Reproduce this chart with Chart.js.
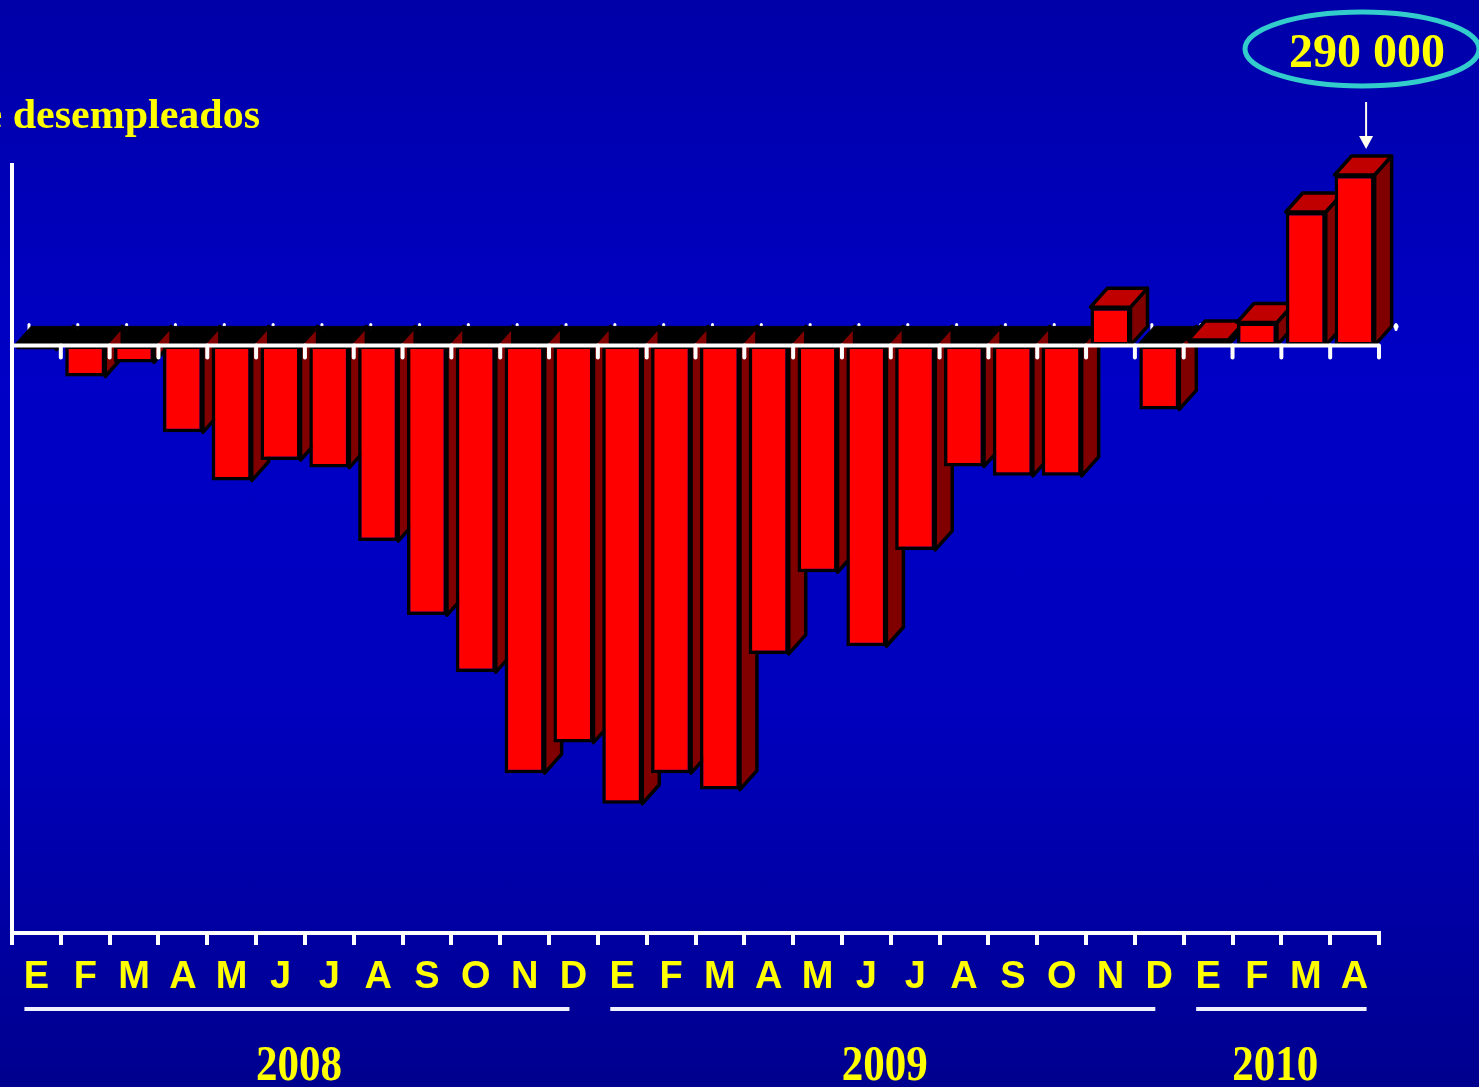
<!DOCTYPE html>
<html>
<head>
<meta charset="utf-8">
<title>desempleados</title>
<script src="https://cdn.jsdelivr.net/npm/chart.js@4.4.0/dist/chart.umd.min.js"></script>
<style>
  html, body { margin: 0; padding: 0; }
  body {
    width: 1479px; height: 1087px; overflow: hidden;
    background: linear-gradient(to bottom, #0000a8 0%, #0000c6 35%, #0000be 65%, #00008e 100%);
  }
  #wrap { position: relative; width: 1479px; height: 1087px; }
</style>
</head>
<body>
<div id="wrap"><canvas id="unempChart"></canvas></div>
<script>
/* Data */
const month_labels = ['E', 'F', 'M', 'A', 'M', 'J', 'J', 'A', 'S', 'O', 'N', 'D',
                      'E', 'F', 'M', 'A', 'M', 'J', 'J', 'A', 'S', 'O', 'N', 'D',
                      'E', 'F', 'M', 'A'];
const change_values = [-7000, -53000, -29000, -148000, -230000, -195000, -208000, -333000,
                       -459000, -556000, -728000, -676000,
                       -780000, -728000, -756000, -525000, -386000, -512000, -348000, -206000,
                       -222000, -222000, 65000, -109000,
                       9000, 39000, 227000, 290000];
const year_labels = ['2008', '2009', '2010'];
const year_first = [0, 12, 24];
const year_last = [11, 23, 27];
const title_text = 'Miles de desempleados';
const callout_text = '290 000';

/* Look */
const depth_x = 17;
const depth_y = -19;
const yellow = '#ffff00';
const white = '#ffffff';

const chart_element = document.getElementById('unempChart');

const poly = (ctx, pts, fill) => {
  ctx.beginPath();
  ctx.moveTo(pts[0][0], pts[0][1]);
  for (let i = 1; i < pts.length; i++) {
    ctx.lineTo(pts[i][0], pts[i][1]);
  }
  ctx.closePath();
  ctx.fillStyle = fill;
  ctx.fill();
  ctx.stroke();
};

// boundaries between months, from the category scale
const boundaries = (x) => {
  const half = (x.getPixelForValue(1) - x.getPixelForValue(0)) / 2;
  const out = [];
  for (let i = 0; i < month_labels.length; i++) {
    out.push(x.getPixelForValue(i) - half);
  }
  out.push(x.getPixelForValue(month_labels.length - 1) + half);
  return out;
};

const bars3d = {
  id: 'bars3d',
  beforeDatasetsDraw(chart) {
    const ctx = chart.ctx;
    const x = chart.scales.x;
    const y = chart.scales.y;
    const y0 = y.getPixelForValue(0);
    const meta = chart.getDatasetMeta(0);
    const bnd = boundaries(x);

    ctx.save();
    // small ticks on the back edge of the zero plane
    ctx.strokeStyle = white;
    ctx.lineWidth = 3;
    ctx.lineCap = 'round';
    bnd.forEach((bx) => {
      ctx.beginPath();
      ctx.moveTo(bx + depth_x, y0 + depth_y - 2);
      ctx.lineTo(bx + depth_x, y0 + depth_y + 3);
      ctx.stroke();
    });

    // black floor under the negative months
    ctx.strokeStyle = '#000';
    ctx.lineWidth = 1;
    change_values.forEach((v, i) => {
      if (v >= 0) return;
      const cl = bnd[i] + 2;
      const cr = bnd[i + 1] + 2;
      poly(ctx, [[cl, y0], [cl + depth_x, y0 + depth_y], [cr + depth_x, y0 + depth_y], [cr, y0]], '#000');
    });

    // side and top faces
    ctx.lineWidth = 3.5;
    ctx.lineJoin = 'round';
    meta.data.forEach((bar, i) => {
      const left = bar.x - bar.width / 2;
      const right = bar.x + bar.width / 2;
      const top = Math.min(bar.y, bar.base);
      const bottom = Math.max(bar.y, bar.base);
      poly(ctx, [[right, top], [right + depth_x, top + depth_y],
                 [right + depth_x, bottom + depth_y], [right, bottom]], '#800000');
      if (change_values[i] > 0) {
        poly(ctx, [[left, top], [left + depth_x, top + depth_y],
                   [right + depth_x, top + depth_y], [right, top]], '#c00000');
      }
    });
    ctx.restore();
  },
  afterDatasetsDraw(chart) {
    const ctx = chart.ctx;
    const x = chart.scales.x;
    const y = chart.scales.y;
    const y0 = y.getPixelForValue(0);
    const bnd = boundaries(x);

    ctx.save();
    ctx.strokeStyle = white;
    ctx.lineWidth = 4;
    ctx.beginPath();
    ctx.moveTo(x.left, y0);
    ctx.lineTo(x.right, y0);
    ctx.stroke();
    ctx.lineCap = 'round';
    bnd.slice(1).forEach((bx) => {
      ctx.beginPath();
      ctx.moveTo(bx, y0);
      ctx.lineTo(bx, y0 + 12);
      ctx.stroke();
    });
    ctx.fillStyle = white;
    ctx.beginPath();
    ctx.arc(x.right + depth_x, y0 + depth_y, 2.5, 0, Math.PI * 2);
    ctx.fill();
    ctx.restore();
  },
  afterDraw(chart) {
    const ctx = chart.ctx;
    const x = chart.scales.x;
    const meta = chart.getDatasetMeta(0);
    ctx.save();

    // title, partly off the left edge
    ctx.fillStyle = yellow;
    ctx.font = 'bold 42px "Liberation Serif", "Times New Roman", serif';
    ctx.textAlign = 'right';
    ctx.textBaseline = 'alphabetic';
    ctx.fillText(title_text, 260, 128);

    // callout for the last month
    const last = meta.data[meta.data.length - 1];
    const ax = last.x + depth_x / 2 + 3;
    ctx.strokeStyle = '#33cccc';
    ctx.lineWidth = 5;
    ctx.beginPath();
    ctx.ellipse(1362, 49, 117, 37, 0, 0, Math.PI * 2);
    ctx.stroke();
    ctx.fillStyle = yellow;
    ctx.font = 'bold 48px "Liberation Serif", "Times New Roman", serif';
    ctx.textAlign = 'center';
    ctx.fillText(callout_text, 1367, 67);

    const tip = last.y + depth_y - 7;
    ctx.strokeStyle = '#ffffee';
    ctx.fillStyle = '#ffffee';
    ctx.lineWidth = 2;
    ctx.beginPath();
    ctx.moveTo(ax, 102);
    ctx.lineTo(ax, tip - 10);
    ctx.stroke();
    ctx.beginPath();
    ctx.moveTo(ax - 7, tip - 13);
    ctx.lineTo(ax + 7, tip - 13);
    ctx.lineTo(ax, tip);
    ctx.closePath();
    ctx.fill();

    // year groups
    year_labels.forEach((yr, k) => {
      const c1 = x.getPixelForValue(year_first[k]);
      const c2 = x.getPixelForValue(year_last[k]);
      ctx.strokeStyle = '#f0f0ff';
      ctx.lineWidth = 4;
      ctx.beginPath();
      ctx.moveTo(c1 - 12, 1009);
      ctx.lineTo(c2 + (k === 2 ? 12 : -4), 1009);
      ctx.stroke();
      ctx.save();
      ctx.translate((c1 + c2) / 2 - 6, 1080);
      ctx.scale(0.86, 1);
      ctx.fillStyle = yellow;
      ctx.font = 'bold 50px "Liberation Serif", "Times New Roman", serif';
      ctx.textAlign = 'center';
      ctx.fillText(yr, 0, 0);
      ctx.restore();
    });
    ctx.restore();
  }
};

/* Chart */
const unemp_chart = new Chart(chart_element.getContext('2d'), {
  type: 'bar',
  data: {
    labels: month_labels,
    datasets: [{
      data: change_values,
      backgroundColor: '#ff0000',
      borderColor: '#000000',
      borderWidth: 3.5,
      borderSkipped: false,
      barPercentage: 0.82,
      categoryPercentage: 1
    }]
  },
  options: {
    responsive: true,
    maintainAspectRatio: false,
    animation: false,
    layout: { padding: { top: 165, right: 100, left: 0, bottom: 0 } },
    plugins: {
      legend: { display: false },
      tooltip: { enabled: false }
    },
    scales: {
      x: {
        offset: true,
        grid: {
          offset: true,
          drawOnChartArea: false,
          drawTicks: true,
          tickLength: 12,
          color: white,
          lineWidth: 4
        },
        border: { display: true, color: white, width: 4 },
        ticks: {
          color: yellow,
          font: { family: '"Liberation Sans Narrow", "Arial Narrow", "Liberation Sans", Arial', weight: 'bold', size: 38 },
          padding: 10,
          autoSkip: false,
          maxRotation: 0
        },
        afterFit: (s) => { s.height = 154; }
      },
      y: {
        min: -1000000,
        max: 307000,
        grid: { display: false, drawTicks: false },
        border: { display: true, color: white, width: 4 },
        ticks: { display: false },
        afterFit: (s) => { s.width = 12; }
      }
    }
  },
  plugins: [bars3d]
});
</script>
</body>
</html>
